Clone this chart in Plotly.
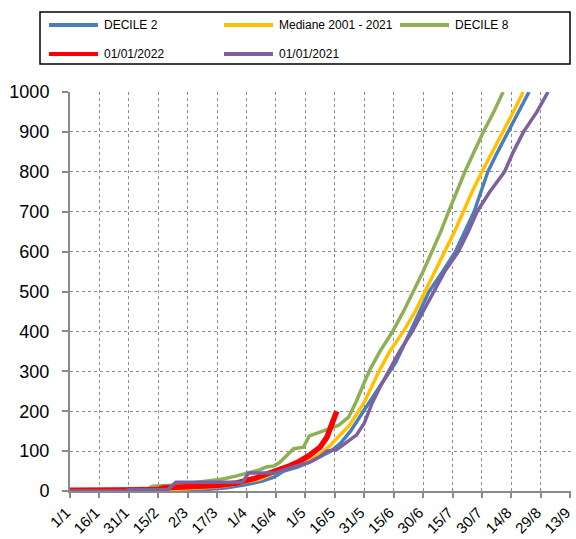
import plotly.graph_objects as go

# ---------------- data ----------------
tick_days = [0, 15, 30, 45, 60, 75, 90, 105, 120, 135, 150, 165, 180, 195, 210, 225, 240, 255]
tick_labels = ["1/1", "16/1", "31/1", "15/2", "2/3", "17/3", "1/4", "16/4", "1/5", "16/5",
               "31/5", "15/6", "30/6", "15/7", "30/7", "14/8", "29/8", "13/9"]
y_ticks = [0, 100, 200, 300, 400, 500, 600, 700, 800, 900, 1000]

decile2_days = [0, 55, 62, 70, 80, 90, 98, 104, 109, 116, 122, 128, 133, 138, 143, 150, 155, 160,
                166, 173.5, 183, 190, 196.5, 206, 210, 213, 218, 223.5, 229, 234]
decile2_vals = [0, 0, 2, 4, 8, 16, 25, 35, 50, 60, 72, 87, 100, 120, 150, 203, 240, 278,
                322, 400, 500, 550, 600, 700, 760, 800, 850, 900, 950, 1000]

mediane_days = [0, 45, 50, 60, 75, 82, 90, 97, 104, 109, 116, 122, 127.5, 132.6, 137.7, 142.5,
                150, 155.5, 157.5, 163, 170, 176, 181, 186, 191.3, 196, 200.5, 205, 210,
                215.5, 221, 226, 231]
mediane_vals = [0, 0, 3, 5, 10, 15, 22, 30, 45, 55, 68, 77, 93, 114, 140, 165,
                222, 277, 300, 350, 400, 450, 500, 550, 600, 650, 700, 750, 800,
                850, 900, 950, 1000]

decile8_days = [0, 28, 30, 40, 42, 55, 65, 72, 78, 85, 90, 96, 100, 104, 107, 112, 114, 119,
                122, 126, 132, 137, 142, 146, 150, 153, 158, 164.5, 170, 175, 180, 184.5,
                189, 193, 197, 201.3, 206, 210.7, 216, 220.8]
decile8_vals = [0, 0, 5, 7, 12, 15, 22, 26, 30, 38, 45, 52, 60, 63, 72, 97, 106, 110,
                138, 145, 155, 165, 185, 225, 272, 305, 350, 400, 450, 500, 550, 600,
                650, 700, 750, 800, 850, 900, 950, 1000]

y2022_days = [0, 44, 48, 60, 75, 85, 90, 95, 100, 104, 108, 112, 116, 122, 127.5, 131, 133.5, 136]
y2022_vals = [2, 3, 8, 10, 14, 20, 25, 33, 42, 48, 56, 63, 72, 89, 110, 135, 168, 200]

y2021_days = [0, 28, 30, 50, 54, 88, 91, 104, 110, 116, 122, 127, 131, 136, 142, 146, 150,
              154, 158, 162.3, 168, 174.5, 180, 185, 191, 198, 203, 207.5, 214, 221.5, 226,
              231.2, 238, 243.7]
y2021_vals = [0, 0, 3, 4, 22, 22, 45, 45, 55, 63, 72, 85, 100, 104, 125, 140, 170,
              220, 260, 300, 350, 400, 450, 500, 550, 600, 650, 700, 750, 800, 850,
              900, 950, 1000]

series = [
    ("DECILE 2", decile2_days, decile2_vals, "#4A7EBB", 3.5),
    ("Mediane 2001 - 2021", mediane_days, mediane_vals, "#FFC000", 3.5),
    ("DECILE 8", decile8_days, decile8_vals, "#8DB055", 3.5),
    ("01/01/2022", y2022_days, y2022_vals, "#FF0000", 5.5),
    ("01/01/2021", y2021_days, y2021_vals, "#7D609E", 3.5),
]

# ---------------- figure ----------------
W, H = 576, 539
L, R, T, B = 70, 5, 92, 48
FONT = "Arial, Liberation Sans, sans-serif"

fig = go.Figure()
for name, d, v, col, w in series:
    fig.add_trace(go.Scatter(x=d, y=v, mode="lines", name=name,
                             line=dict(color=col, width=w), showlegend=False))

fig.update_layout(
    width=W, height=H,
    margin=dict(l=L, r=R, t=T, b=B, pad=0, autoexpand=False),
    paper_bgcolor="white", plot_bgcolor="white",
    font=dict(family=FONT, color="black"),
    showlegend=False,
)
fig.update_xaxes(
    range=[0, 255.4], tickmode="array", tickvals=tick_days, ticktext=tick_labels,
    tickangle=-45, tickfont=dict(size=15, family=FONT, color="black"),
    showgrid=True, gridcolor="#8a8a8a", griddash="dot", gridwidth=1,
    showline=True, linecolor="#8a8a8a", linewidth=2,
    ticks="outside", ticklen=5, tickcolor="#8a8a8a", tickwidth=1.5,
    zeroline=False, automargin=False, ticklabeloverflow="allow",
    ticklabelshift=-4,
)
fig.update_yaxes(
    range=[0, 1000], tickmode="array", tickvals=y_ticks,
    tickfont=dict(size=18, family=FONT, color="black"),
    showgrid=True, gridcolor="#8a8a8a", griddash="dot", gridwidth=1,
    showline=True, linecolor="#8a8a8a", linewidth=2,
    ticks="outside", ticklen=6, tickcolor="#8a8a8a", tickwidth=1.5,
    zeroline=False, automargin=False, ticklabelstandoff=9,
    ticklabeloverflow="allow",
)

# ---------------- manual legend ----------------
def px(x):
    return (x - L) / (W - L - R)

def py(y):
    return (H - B - y) / (H - T - B)

shapes = [dict(type="rect", xref="paper", yref="paper",
               x0=px(40), x1=px(570), y0=py(64), y1=py(12),
               line=dict(color="black", width=1.5), fillcolor="white", layer="above")]
annotations = []
legend_pos = [(49, 25), (224, 25), (400, 25), (49, 54), (224, 54)]
for (name, d, v, col, w), (lx, ly) in zip(series, legend_pos):
    shapes.append(dict(type="line", xref="paper", yref="paper",
                       x0=px(lx), x1=px(lx + 49), y0=py(ly), y1=py(ly),
                       line=dict(color=col, width=4), layer="above"))
    annotations.append(dict(xref="paper", yref="paper", x=px(lx + 53), y=py(ly),
                            xanchor="left", yanchor="middle", text=name, showarrow=False,
                            font=dict(size=12, family=FONT, color="black")))
fig.update_layout(shapes=shapes, annotations=annotations)

fig.write_html("out.html", config={"displayModeBar": False},
               post_script="document.body.style.margin='0px';document.body.style.overflow='hidden';")
